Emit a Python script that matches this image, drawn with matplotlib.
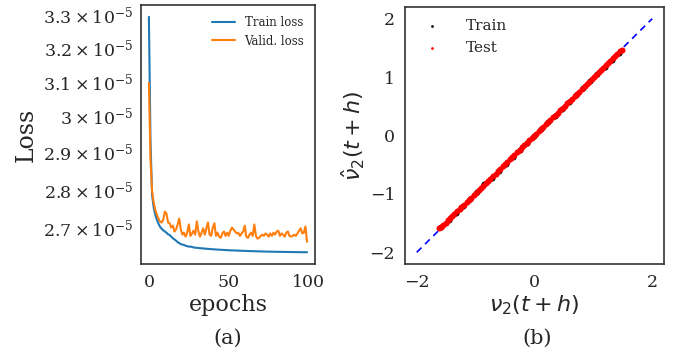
import numpy as np
import matplotlib
matplotlib.use("Agg")
import matplotlib.pyplot as plt
import seaborn as sns


# Loss history, in units of 1e-5
train_loss = [
    3.294, 2.933, 2.785, 2.752, 2.733, 2.720, 2.710, 2.702, 2.697, 2.693,
    2.690, 2.687, 2.683, 2.681, 2.677, 2.673, 2.670, 2.667, 2.663, 2.661,
    2.658, 2.657, 2.656, 2.654, 2.653, 2.652, 2.652, 2.651, 2.650, 2.649,
    2.6490, 2.6485, 2.6480, 2.6478, 2.6472, 2.6470, 2.6466, 2.6462, 2.6460, 2.6456,
    2.6453, 2.6450, 2.6448, 2.6445, 2.6443, 2.6440, 2.6438, 2.6436, 2.6433, 2.6431,
    2.6429, 2.6427, 2.6425, 2.6424, 2.6422, 2.6420, 2.6419, 2.6417, 2.6415, 2.6414,
    2.6412, 2.6411, 2.6410, 2.6408, 2.6407, 2.6406, 2.6404, 2.6403, 2.6402, 2.6401,
    2.6400, 2.6399, 2.6397, 2.6396, 2.6395, 2.6394, 2.6393, 2.6392, 2.6392, 2.6391,
    2.6390, 2.6389, 2.6388, 2.6388, 2.6387, 2.6386, 2.6386, 2.6385, 2.6384, 2.6384,
    2.6383, 2.6383, 2.6382, 2.6382, 2.6381, 2.6381, 2.6380, 2.6380, 2.6380, 2.6379,
]
valid_loss = [
    3.095, 2.880, 2.795, 2.765, 2.746, 2.733, 2.723, 2.715, 2.713, 2.720,
    2.741, 2.736, 2.713, 2.711, 2.700, 2.705, 2.690, 2.695, 2.708, 2.723,
    2.695, 2.682, 2.687, 2.677, 2.687, 2.708, 2.679, 2.685, 2.692, 2.682,
    2.716, 2.690, 2.677, 2.687, 2.698, 2.682, 2.698, 2.713, 2.682, 2.679,
    2.700, 2.711, 2.679, 2.687, 2.677, 2.674, 2.685, 2.690, 2.679, 2.687,
    2.679, 2.692, 2.700, 2.695, 2.690, 2.685, 2.687, 2.679, 2.685, 2.690,
    2.705, 2.677, 2.674, 2.682, 2.687, 2.679, 2.708, 2.679, 2.672, 2.674,
    2.679, 2.682, 2.679, 2.685, 2.682, 2.677, 2.685, 2.679, 2.687, 2.682,
    2.690, 2.692, 2.679, 2.685, 2.682, 2.677, 2.687, 2.690, 2.679, 2.677,
    2.679, 2.682, 2.679, 2.685, 2.692, 2.698, 2.685, 2.687, 2.703, 2.664,
]

# Predicted vs true nu_2(t+h)
train_true = [-1.58, -1.45, -1.33, -1.21, -1.09, -0.97, -0.85, -0.73, -0.61, -0.49,
              -0.37, -0.25, -0.13, -0.01, 0.11, 0.23, 0.35, 0.47, 0.59, 0.71,
              0.83, 0.95, 1.07, 1.19, 1.31, 1.43]
train_pred = [-1.56, -1.44, -1.32, -1.20, -1.08, -0.96, -0.83, -0.72, -0.60, -0.48,
              -0.36, -0.24, -0.12, 0.00, 0.11, 0.23, 0.34, 0.46, 0.58, 0.70,
              0.82, 0.94, 1.06, 1.18, 1.30, 1.41]
test_true = [-1.62, -1.58, -1.55, -1.51, -1.47, -1.43, -1.40, -1.36, -1.31, -1.27,
             -1.24, -1.20, -1.15, -1.11, -1.08, -1.03, -0.99, -0.95, -0.91, -0.87,
             -0.83, -0.79, -0.75, -0.71, -0.66, -0.62, -0.58, -0.54, -0.50, -0.46,
             -0.42, -0.38, -0.34, -0.29, -0.25, -0.21, -0.17, -0.13, -0.09, -0.05,
             -0.01, 0.03, 0.07, 0.11, 0.15, 0.19, 0.23, 0.27, 0.31, 0.36,
             0.40, 0.44, 0.48, 0.52, 0.56, 0.60, 0.64, 0.68, 0.72, 0.76,
             0.81, 0.85, 0.89, 0.93, 0.97, 1.01, 1.05, 1.09, 1.13, 1.17,
             1.21, 1.25, 1.29, 1.33, 1.37, 1.41, 1.45, 1.49]
test_pred = [-1.59, -1.56, -1.53, -1.50, -1.45, -1.42, -1.38, -1.35, -1.30, -1.26,
             -1.22, -1.19, -1.14, -1.10, -1.07, -1.02, -0.98, -0.94, -0.90, -0.86,
             -0.82, -0.78, -0.74, -0.70, -0.66, -0.61, -0.57, -0.53, -0.49, -0.45,
             -0.41, -0.37, -0.33, -0.29, -0.24, -0.20, -0.16, -0.12, -0.08, -0.04,
             0.00, 0.03, 0.07, 0.11, 0.15, 0.19, 0.23, 0.27, 0.31, 0.35,
             0.39, 0.43, 0.47, 0.51, 0.55, 0.59, 0.63, 0.67, 0.71, 0.75,
             0.80, 0.84, 0.88, 0.92, 0.96, 1.00, 1.04, 1.08, 1.12, 1.16,
             1.20, 1.24, 1.28, 1.32, 1.36, 1.40, 1.44, 1.47]
ref_line = [-2, 2]


sns.set_style("white")
plt.rcParams["font.family"] = "serif"
plt.rcParams["font.serif"] = ["DejaVu Serif"]
plt.rcParams["mathtext.fontset"] = "dejavusans"

fig = plt.figure(figsize=(6.82, 3.59), dpi=100)

# (a) loss curves
ax1 = fig.add_axes([0.2067, 0.2646, 0.2551, 0.7214])
epochs = np.arange(len(train_loss))
ax1.plot(epochs, np.array(train_loss) * 1e-5, color="#1f77b4", lw=1.5, label="Train loss")
ax1.plot(epochs, np.array(valid_loss) * 1e-5, color="#ff7f0e", lw=1.5, label="Valid. loss")
ax1.set_yscale("log")
ax1.set_xlabel("epochs", fontsize=16, labelpad=2)
ax1.set_ylabel("Loss", fontsize=17, labelpad=4)
ax1.tick_params(axis="both", which="both", labelsize=12.5, colors=".15")
ax1.legend(loc="upper right", frameon=False, fontsize=8.5)

# (b) prediction vs truth
ax2 = fig.add_axes([0.5938, 0.2646, 0.3798, 0.7159])
ax2.plot(ref_line, ref_line, "b--", lw=1.2, dashes=(4, 3), zorder=1)
ax2.scatter(train_true, train_pred, s=75, marker=".", color="black", linewidths=0,
            label="Train", zorder=2)
ax2.scatter(test_true, test_pred, s=75, marker=".", color="red", linewidths=0,
            label="Test", zorder=3)
ax2.set_xticks([-2, 0, 2])
ax2.set_yticks([-2, -1, 0, 1, 2])
ax2.set_xlabel(r"$\nu_2(t+h)$", fontsize=16, labelpad=2)
ax2.set_ylabel(r"$\hat{\nu}_2(t+h)$", fontsize=16, labelpad=2)
ax2.tick_params(axis="both", labelsize=12.5, colors=".15")
ax2.legend(loc="upper left", frameon=False, fontsize=11, markerscale=0.45,
           borderaxespad=0.4, handletextpad=1.2, labelspacing=0.5)

for ax in (ax1, ax2):
    for spine in ax.spines.values():
        spine.set_color(".2")
        spine.set_linewidth(1.2)

fig.text(0.334, 0.058, "(a)", ha="center", va="center", fontsize=15)
fig.text(0.788, 0.058, "(b)", ha="center", va="center", fontsize=15)

fig.savefig("out.png", dpi=100)
